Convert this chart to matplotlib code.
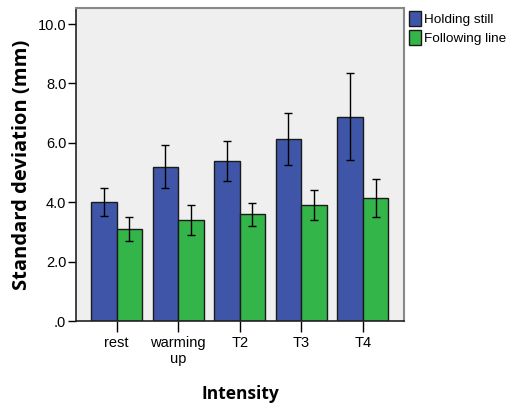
import numpy as np
import matplotlib
matplotlib.use("Agg")
import matplotlib.pyplot as plt

# mean standard deviation per intensity, with error bar half-widths
categories = ["rest", "warming\nup", "T2", "T3", "T4"]
holding_still = [4.00, 5.20, 5.40, 6.13, 6.88]
holding_err = [0.48, 0.73, 0.67, 0.87, 1.46]
following_line = [3.10, 3.40, 3.60, 3.90, 4.13]
following_err = [0.39, 0.49, 0.39, 0.50, 0.64]
yticks = [0, 2, 4, 6, 8, 10]
ytick_labels = [".0", "2.0", "4.0", "6.0", "8.0", "10.0"]

plt.rcParams["font.family"] = ["Liberation Sans", "DejaVu Sans"]

fig = plt.figure(figsize=(5.08, 4.07), dpi=100)
ax = fig.add_axes([0.1496, 0.2113, 0.6457, 0.769])
ax.set_facecolor("#efefef")

x = np.arange(len(categories))
w = 0.415
err_kw = dict(ecolor="black", elinewidth=1.0, capsize=3, capthick=1.0)
ax.bar(x - w / 2, holding_still, w, yerr=holding_err, color="#3f56a8",
       edgecolor="#1a1a1a", linewidth=1.0, label="Holding still", error_kw=err_kw)
ax.bar(x + w / 2, following_line, w, yerr=following_err, color="#33b54a",
       edgecolor="#1a1a1a", linewidth=1.0, label="Following line", error_kw=err_kw)

ax.set_xlim(-0.66, 4.67)
ax.set_ylim(0, 10.54)
ax.set_yticks(yticks)
ax.set_yticklabels(ytick_labels)
ax.set_xticks(x)
ax.set_xticklabels(categories, linespacing=1.15)
ax.tick_params(axis="y", length=6, width=1, labelsize=10.5, pad=1)
ax.tick_params(axis="x", length=8, width=1, labelsize=10.5, pad=3)

for side in ["left", "bottom"]:
    ax.spines[side].set_color("#222222")
    ax.spines[side].set_linewidth(1.2)
for side in ["right", "top"]:
    ax.spines[side].set_color("#888888")
    ax.spines[side].set_linewidth(1.5)

ax.set_ylabel("Standard deviation (mm)", fontsize=14.5, fontweight="bold",
              family="Open Sans", labelpad=4)
ax.set_xlabel("Intensity", fontsize=12.5, fontweight="bold",
              family="Open Sans", labelpad=14)

leg = ax.legend(loc="upper left", bbox_to_anchor=(0.99, 1.015), frameon=False,
                fontsize=9.7, handlelength=0.9, handleheight=1.3,
                handletextpad=0.25, labelspacing=0.3, borderaxespad=0.2)

fig.savefig("out.png", dpi=100)
